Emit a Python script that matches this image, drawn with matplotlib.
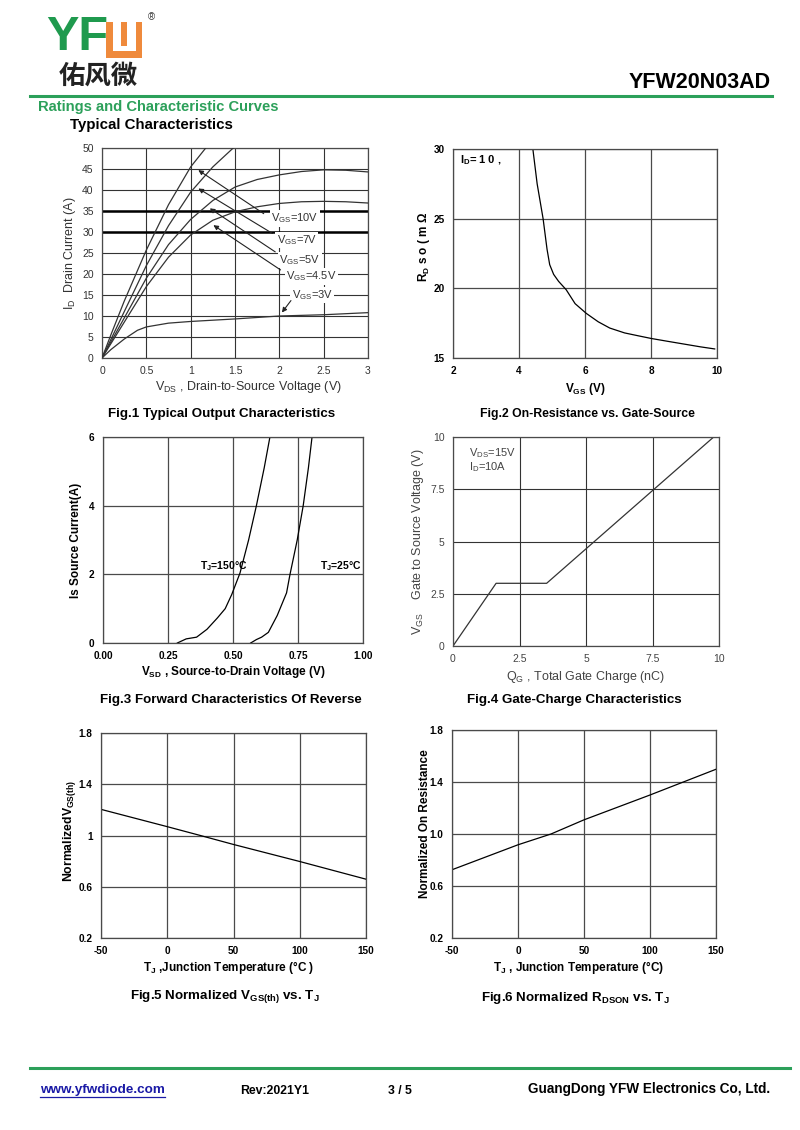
import matplotlib
matplotlib.use("Agg")
import matplotlib.pyplot as plt
from matplotlib.patches import Rectangle
import numpy as np

plt.rcParams['font.family'] = ['Liberation Sans', 'DejaVu Sans']
plt.rcParams['mathtext.default'] = 'regular'
plt.rcParams['axes.unicode_minus'] = False

# ---------------- data ----------------
# Fig.1 output characteristics
vds_10 = [0, 0.1, 0.25, 0.5, 0.75, 1.0, 1.17]
id_10 = [0, 5.5, 13.5, 25.7, 36.5, 45.5, 50]
vds_7 = [0, 0.25, 0.5, 0.75, 1.0, 1.25, 1.48]
id_7 = [0, 11, 22, 31.5, 39.5, 45.5, 50]
vds_5 = [0, 0.25, 0.5, 0.75, 1.0, 1.25, 1.5, 1.75, 2.0, 2.25, 2.5, 2.75, 3.0]
id_5 = [0, 9.5, 19, 27, 33, 37.5, 40.7, 42.5, 43.6, 44.4, 44.8, 44.7, 44.3]
vds_45 = [0, 0.25, 0.5, 0.75, 1.0, 1.25, 1.5, 1.75, 2.0, 2.25, 2.5, 2.75, 3.0]
id_45 = [0, 8.5, 17, 24, 29.3, 32.8, 34.8, 36.0, 36.8, 37.2, 37.3, 37.2, 36.9]
vds_3 = [0, 0.1, 0.25, 0.4, 0.5, 0.75, 1.0, 1.5, 2.0, 2.5, 3.0]
id_3 = [0, 2.0, 4.5, 6.6, 7.4, 8.3, 8.7, 9.3, 10.0, 10.3, 10.8]
vgs_labels = ['V$_{GS}$=10V', 'V$_{GS}$=7V', 'V$_{GS}$=5V', 'V$_{GS}$=4.5V', 'V$_{GS}$=3V']
label_xy = [(1.91, 33.2), (1.97, 28.1), (2.0, 23.3), (2.08, 19.4), (2.14, 15.0)]
arrow_tail = [(1.85, 34.0), (1.95, 29.3), (1.98, 24.9), (2.04, 20.6), (2.15, 14.2)]
arrow_tip = [(1.06, 45.1), (1.06, 40.7), (1.19, 36.0), (1.23, 32.0), (2.01, 10.3)]

# Fig.2 on-resistance vs gate-source voltage
vgs_r = [4.42, 4.55, 4.73, 4.85, 4.93, 5.05, 5.2, 5.43, 5.7, 6.04, 6.4, 6.75, 7.2, 7.6, 8.01, 8.5, 9.0, 9.5, 9.93]
rds = [30, 27.5, 25.0, 22.8, 21.7, 21.0, 20.5, 19.9, 18.9, 18.2, 17.6, 17.15, 16.8, 16.6, 16.4, 16.2, 16.0, 15.8, 15.65]

# Fig.3 body diode forward characteristics
vsd_150 = [0.286, 0.30, 0.32, 0.36, 0.40, 0.44, 0.47, 0.495, 0.527, 0.56, 0.59, 0.62, 0.642]
is_150 = [0, 0.05, 0.12, 0.17, 0.4, 0.73, 1.0, 1.41, 2.04, 3.0, 4.0, 5.1, 6.0]
vsd_25 = [0.568, 0.59, 0.61, 0.636, 0.67, 0.706, 0.719, 0.747, 0.77, 0.79, 0.804]
is_25 = [0, 0.1, 0.17, 0.31, 0.8, 1.46, 1.99, 3.0, 4.0, 5.1, 6.0]

# Fig.4 gate charge
qg = [0, 1.62, 3.52, 9.8]
vgs_q = [0, 3.0, 3.0, 10.0]

# Fig.5 normalized Vgs(th)
tj = [-50, 0, 25, 50, 100, 150]
vth_norm = [1.204, 1.069, 1.0, 0.93, 0.797, 0.659]

# Fig.6 normalized Rds(on)
ron_norm = [0.725, 0.917, 1.0, 1.109, 1.30, 1.498]

W, H = 800, 1130
fig = plt.figure(figsize=(8, 11.3), dpi=100)


def ax_rect(x0, y0, x1, y1):
    return [x0 / W, 1 - y1 / H, (x1 - x0) / W, (y1 - y0) / H]


def ftext(x, y, s, **kw):
    fig.text(x / W, 1 - y / H, s, **kw)


GRID = '#4a4a4a'


def style_axes(ax, bold=True, tick_color='black', size=7.2):
    for sp in ax.spines.values():
        sp.set_color(GRID)
        sp.set_linewidth(0.9)
    ax.tick_params(length=0, pad=6, labelsize=size, colors=tick_color)
    for lab in ax.get_xticklabels() + ax.get_yticklabels():
        lab.set_fontweight('bold' if bold else 'normal')
    ax.grid(True, color=GRID, linewidth=0.9)
    ax.set_axisbelow(True)


# ---------------- header ----------------
green = '#1f9a4e'
orange = '#ef8a3c'
ftext(46, 38, 'YF', fontsize=35, fontweight='bold', color=green, va='center', ha='left')
# stylised orange letter
fig.patches.append(Rectangle((106 / W, 1 - 58 / H), 36 / W, 36 / H, transform=fig.transFigure,
                             facecolor=orange, edgecolor='none'))
for (x0, x1, y0, y1) in [(113, 121.5, 22, 51), (127, 135.5, 22, 51), (113, 135.5, 46, 51)]:
    fig.patches.append(Rectangle((x0 / W, 1 - y1 / H), (x1 - x0) / W, (y1 - y0) / H,
                                 transform=fig.transFigure, facecolor='white', edgecolor='none'))
ftext(151, 17, '®', fontsize=7, color='#333333', va='center', ha='center')
ftext(98, 76, '佑风微', fontsize=19, fontweight='bold', color='#222222', va='center', ha='center',
      family=['Noto Sans CJK SC', 'DejaVu Sans'])
ftext(771, 82, 'YFW20N03AD', fontsize=15.5, fontweight='bold', va='center', ha='right')
fig.add_artist(plt.Line2D([30 / W, 772 / W], [1 - 96 / H, 1 - 96 / H], color='#2ca05a', linewidth=2.2))
ftext(38, 107, 'Ratings and Characteristic Curves', fontsize=10.6, fontweight='bold', color='#2ca05a',
      va='center', ha='left')
ftext(70, 125, 'Typical Characteristics', fontsize=10.8, fontweight='bold', va='center', ha='left')

# ---------------- Fig.1 ----------------
ax1 = fig.add_axes(ax_rect(102, 148, 368, 358))
ax1.set_xlim(0, 3)
ax1.set_ylim(0, 50)
ax1.set_xticks([0, 0.5, 1, 1.5, 2, 2.5, 3])
ax1.set_xticklabels(['0', '0.5', '1', '1.5', '2', '2.5', '3'])
ax1.set_yticks(range(0, 51, 5))
style_axes(ax1, bold=False, tick_color='#333333', size=7.5)
ax1.grid(True, color='#333333', linewidth=0.8)
for yv in (30, 35):
    ax1.axhline(yv, color='black', linewidth=1.8, zorder=1)
for xs, ys in [(vds_10, id_10), (vds_7, id_7), (vds_5, id_5), (vds_45, id_45), (vds_3, id_3)]:
    ax1.plot(xs, ys, color='#333333', linewidth=0.9, clip_on=True, zorder=3)
for lab, (lx, ly), tail, tip in zip(vgs_labels, label_xy, arrow_tail, arrow_tip):
    ax1.text(lx, ly, lab, fontsize=8, color='#333333', va='center', ha='left', zorder=4,
             bbox=dict(facecolor='white', edgecolor='none', pad=1.0))
    ax1.annotate('', xy=tip, xytext=tail,
                 arrowprops=dict(arrowstyle='-|>', color='#222222', lw=0.8, mutation_scale=7), zorder=5)
ax1.set_xlabel('V$_{DS}$ , Drain-to-Source Voltage (V)', fontsize=9, color='#333333')
ax1.xaxis.set_label_coords(0.55, -0.1)
ax1.set_ylabel('I$_D$  Drain Current (A)', fontsize=9, color='#333333')
ax1.yaxis.set_label_coords(-0.09, 0.5)

# ---------------- Fig.2 ----------------
ax2 = fig.add_axes(ax_rect(453, 149, 717, 358))
ax2.set_xlim(2, 10)
ax2.set_ylim(15, 30)
ax2.set_xticks([2, 4, 6, 8, 10])
ax2.set_yticks([15, 20, 25, 30])
style_axes(ax2)
ax2.plot(vgs_r, rds, color='black', linewidth=0.9)
ax2.text(2.2, 29.2, 'I$_D$= 1 0 ,', fontsize=8, fontweight='bold', va='center', ha='left')
ax2.set_xlabel('V$_{GS}$ (V)', fontsize=8.5, fontweight='bold')
ax2.xaxis.set_label_coords(0.5, -0.11)
ax2.set_ylabel('R$_D$ s o ( m Ω', fontsize=8.5, fontweight='bold')
ax2.yaxis.set_label_coords(-0.08, 0.53)

# ---------------- Fig.3 ----------------
ax3 = fig.add_axes(ax_rect(103, 437, 363, 643))
ax3.set_xlim(0, 1)
ax3.set_ylim(0, 6)
ax3.set_xticks([0, 0.25, 0.5, 0.75, 1.0])
ax3.set_xticklabels(['0.00', '0.25', '0.50', '0.75', '1.00'])
ax3.set_yticks([0, 2, 4, 6])
style_axes(ax3)
ax3.plot(vsd_150, is_150, color='black', linewidth=0.9)
ax3.plot(vsd_25, is_25, color='black', linewidth=0.9)
ax3.text(0.372, 2.25, 'T$_J$=150°C', fontsize=7.5, fontweight='bold', va='center', ha='left')
ax3.text(0.835, 2.25, 'T$_J$=25°C', fontsize=7.5, fontweight='bold', va='center', ha='left')
ax3.set_xlabel('V$_{SD}$ , Source-to-Drain Voltage (V)', fontsize=8.5, fontweight='bold')
ax3.xaxis.set_label_coords(0.5, -0.1)
ax3.set_ylabel('Is Source Current(A)', fontsize=8.5, fontweight='bold')
ax3.yaxis.set_label_coords(-0.08, 0.5)

# ---------------- Fig.4 ----------------
ax4 = fig.add_axes(ax_rect(453, 437, 719, 646))
ax4.set_xlim(0, 10)
ax4.set_ylim(0, 10)
ax4.set_xticks([0, 2.5, 5, 7.5, 10])
ax4.set_xticklabels(['0', '2.5', '5', '7.5', '10'])
ax4.set_yticks([0, 2.5, 5, 7.5, 10])
ax4.set_yticklabels(['0', '2.5', '5', '7.5', '10'])
style_axes(ax4, bold=False, tick_color='#444444', size=7.5)
ax4.grid(True, color='#333333', linewidth=0.8)
ax4.plot(qg, vgs_q, color='#333333', linewidth=0.9)
ax4.text(0.6, 9.25, 'V$_{DS}$=15V', fontsize=8, color='#444444', va='center', ha='left')
ax4.text(0.6, 8.55, 'I$_D$=10A', fontsize=8, color='#444444', va='center', ha='left')
ax4.set_xlabel('Q$_G$ , Total Gate Charge (nC)', fontsize=9, color='#444444')
ax4.xaxis.set_label_coords(0.5, -0.11)
ax4.set_ylabel('V$_{GS}$    Gate to Source Voltage (V)', fontsize=9, color='#444444')
ax4.yaxis.set_label_coords(-0.1, 0.5)

# ---------------- Fig.5 ----------------
ax5 = fig.add_axes(ax_rect(101, 733, 366, 938))
ax5.set_xlim(-50, 150)
ax5.set_ylim(0.2, 1.8)
ax5.set_xticks([-50, 0, 50, 100, 150])
ax5.set_yticks([0.2, 0.6, 1.0, 1.4, 1.8])
ax5.set_yticklabels(['0.2', '0.6', '1', '1.4', '1.8'])
style_axes(ax5)
ax5.plot(tj, vth_norm, color='black', linewidth=0.9)
ax5.set_xlabel('T$_J$ ,Junction Temperature (°C )', fontsize=8.5, fontweight='bold')
ax5.xaxis.set_label_coords(0.48, -0.1)
ax5.set_ylabel('NormalizedV$_{GS(th)}$', fontsize=8.8, fontweight='bold')
ax5.yaxis.set_label_coords(-0.088, 0.52)

# ---------------- Fig.6 ----------------
ax6 = fig.add_axes(ax_rect(452, 730, 716, 938))
ax6.set_xlim(-50, 150)
ax6.set_ylim(0.2, 1.8)
ax6.set_xticks([-50, 0, 50, 100, 150])
ax6.set_yticks([0.2, 0.6, 1.0, 1.4, 1.8])
ax6.set_yticklabels(['0.2', '0.6', '1.0', '1.4', '1.8'])
style_axes(ax6)
ax6.plot(tj, ron_norm, color='black', linewidth=0.9)
ax6.set_xlabel('T$_J$ , Junction Temperature (°C)', fontsize=8.5, fontweight='bold')
ax6.xaxis.set_label_coords(0.48, -0.1)
ax6.set_ylabel('Normalized On Resistance', fontsize=8.5, fontweight='bold')
ax6.yaxis.set_label_coords(-0.08, 0.55)

# ---------------- captions ----------------
cap = dict(fontsize=9.6, fontweight='bold', va='center', ha='center')
ftext(222, 414, 'Fig.1 Typical Output Characteristics', **cap)
ftext(587, 414, 'Fig.2 On-Resistance vs. Gate-Source', fontsize=8.8, fontweight='bold', va='center', ha='center')
ftext(231, 700, 'Fig.3 Forward Characteristics Of Reverse', **cap)
ftext(574, 700, 'Fig.4 Gate-Charge Characteristics', **cap)
ftext(225, 996, 'Fig.5 Normalized V$_{GS(th)}$ vs. T$_J$', **cap)
ftext(575, 998, 'Fig.6 Normalized R$_{DSON}$ vs. T$_J$', **cap)

# ---------------- footer ----------------
fig.add_artist(plt.Line2D([30 / W, 790 / W], [1 - 1068 / H, 1 - 1068 / H], color='#2ca05a', linewidth=2.2))
ftext(40, 1090, 'www.yfwdiode.com', fontsize=9.7, fontweight='bold', color='#1a1aa6', va='center', ha='left')
fig.add_artist(plt.Line2D([40 / W, 165 / W], [1 - 1097 / H, 1 - 1097 / H], color='#1a1aa6', linewidth=0.9))
ftext(240, 1091, 'Rev:2021Y1', fontsize=8.8, fontweight='bold', va='center', ha='left')
ftext(400, 1091, '3 / 5', fontsize=8.8, fontweight='bold', va='center', ha='center')
ftext(770, 1089, 'GuangDong YFW Electronics Co, Ltd.', fontsize=9.8, fontweight='bold', va='center', ha='right')

fig.savefig('out.png', dpi=100, facecolor='white')
